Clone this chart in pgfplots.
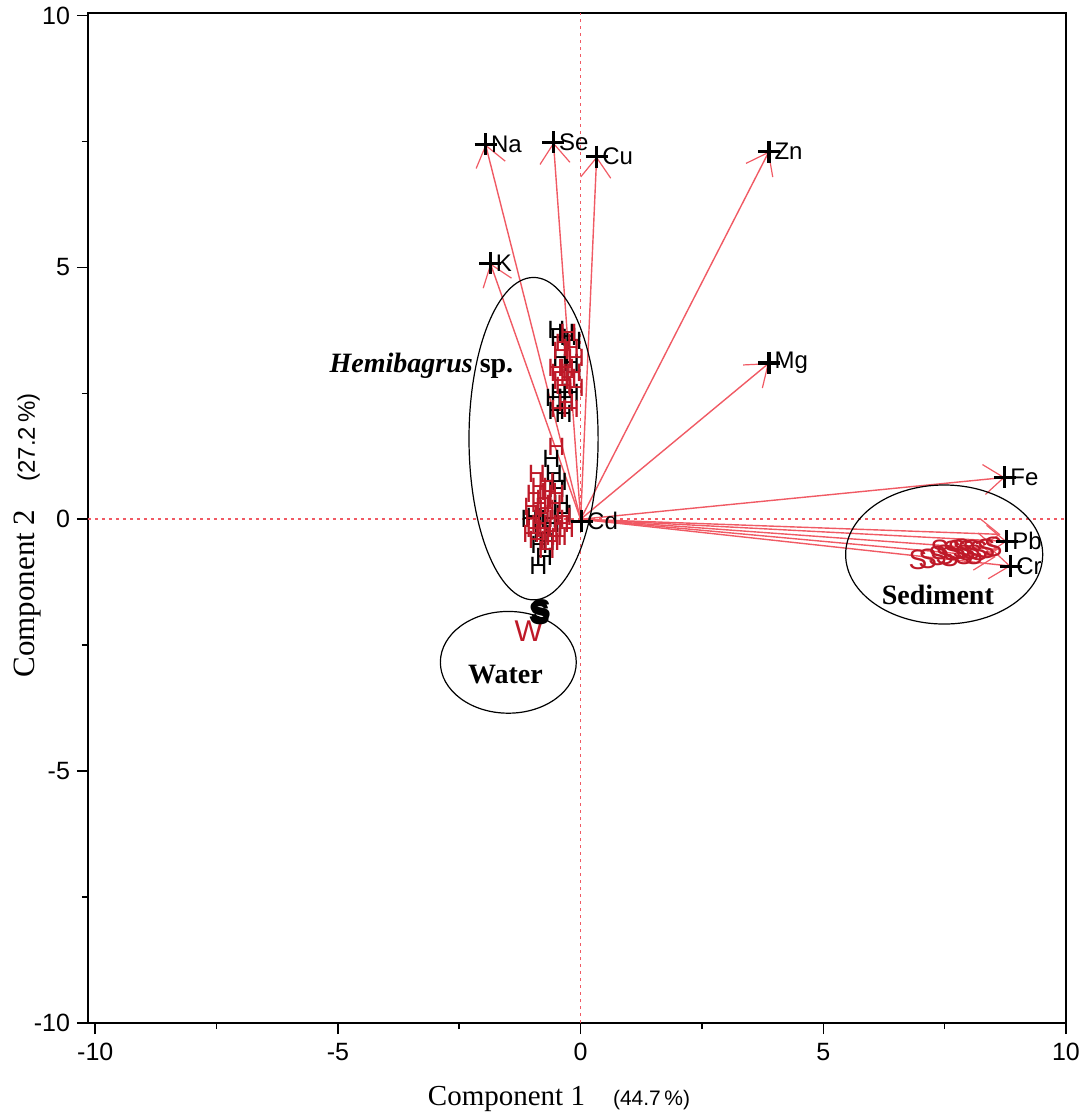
\documentclass[border=0pt]{standalone}
\usepackage{fontspec}
\setmainfont{Liberation Serif}
\setsansfont{Liberation Sans}
\usepackage{pgfplots}
\usepackage{pgfplotstable}
\pgfplotsset{compat=1.18}
\usetikzlibrary{arrows.meta}
\definecolor{arr}{RGB}{240,90,100}
\definecolor{dred}{RGB}{190,25,40}

\pgfplotstableread{
x y lab
-1.96 7.44 Na
-0.56 7.48 Se
0.33 7.20 Cu
3.88 7.30 Zn
-1.86 5.08 K
3.88 3.10 Mg
8.74 0.83 Fe
8.78 -0.44 Pb
8.86 -0.93 Cr
0.02 -0.04 Cd
}\loadings

\pgfplotstableread{
x y
-0.45 3.60
-0.25 3.62
-0.15 3.55
-0.50 3.75
-0.30 3.70
-0.40 3.20
-0.20 3.10
-0.15 2.90
-0.45 2.50
-0.30 2.40
-0.20 2.50
-0.55 2.40
-0.50 2.15
-0.35 2.10
-0.60 1.20
-0.55 0.90
-0.50 0.60
-0.95 0.05
-1.05 0.00
-0.80 -0.30
-0.70 -0.45
-0.85 -0.50
-0.75 -0.75
-0.87 -0.93
-0.60 -0.10
-0.65 0.00
-0.40 0.30
-0.35 0.10
-0.45 0.75
}\Hblack

\pgfplotstableread{
x y
-0.35 3.50
-0.25 3.70
-0.30 3.00
-0.50 3.00
-0.15 2.90
-0.35 2.65
-0.40 2.75
-0.25 2.80
-0.10 3.20
-0.10 2.60
-0.45 2.90
-0.20 3.40
-0.40 3.35
-0.30 2.30
-0.20 2.20
-0.45 2.20
-0.50 1.43
-0.95 0.50
-0.85 0.30
-0.70 0.20
-0.50 0.00
-0.75 -0.20
-0.55 -0.35
-0.95 -0.20
-0.40 -0.10
-0.65 0.55
-0.30 -0.20
-0.80 0.10
-0.60 -0.45
-1.00 0.25
-0.90 -0.40
-0.45 -0.35
-0.35 0.05
-0.55 0.30
-0.85 0.65
-0.75 0.40
-0.98 0.00
-0.62 -0.25
-0.70 -0.60
-1.02 -0.30
-0.85 -0.10
-0.50 0.50
-0.70 0.75
-0.90 0.90
}\Hred

\pgfplotstableread{
x y
6.95 -0.80
7.15 -0.78
7.35 -0.72
7.50 -0.70
7.65 -0.62
7.75 -0.60
7.85 -0.58
7.95 -0.62
8.05 -0.60
8.20 -0.62
8.35 -0.58
8.50 -0.55
7.60 -0.75
7.90 -0.70
8.10 -0.70
7.40 -0.60
}\Ssed

\begin{document}
\begin{tikzpicture}
\begin{axis}[
  scale only axis,
  width=489pt, height=505pt,
  xmin=-10.15, xmax=10, ymin=-10, ymax=10.05,
  axis line style={line width=0.8pt},
  xtick={-10,-5,0,5,10},
  xticklabels={-10,-5,0,5,10},
  ytick={-10,-5,0,5,10},
  yticklabels={-10,-5,0,5,10},
  minor xtick={-7.5,-2.5,2.5,7.5},
  minor ytick={-7.5,-2.5,2.5,7.5},
  tick align=outside,
  major tick length=5.5pt,
  minor tick length=3pt,
  tick style={line width=0.8pt, black},
  xtick pos=bottom, ytick pos=left,
  ticklabel style={font=\sffamily\fontsize{12.5}{14}\selectfont},
  xticklabel style={yshift=-1pt},
  xlabel={{\fontsize{14.5}{17}\selectfont Component 1}\hspace{14pt}{\sffamily\fontsize{10.5}{12}\selectfont (44.7\,\%)}},
  xlabel style={at={(axis description cs:0.4816,0)}, anchor=base, yshift=-41pt},
  ylabel={{\fontsize{15.5}{18}\selectfont Component 2}\hspace{14pt}{\sffamily\fontsize{12}{14}\selectfont (27.2\,\%)}},
  ylabel style={at={(axis description cs:-0.0542,0.4827)}, anchor=base},
  clip=false,
]
% reference lines
\addplot[arr, line width=0.8pt, dash pattern=on 1.3pt off 2.2pt] coordinates {(0,-10) (0,10.05)};
\addplot[arr, line width=0.8pt, dash pattern=on 1.3pt off 2.2pt] coordinates {(-10.15,0) (10,0)};

% sample scores
\addplot[only marks, mark=text,
  text mark={\sffamily\fontsize{12.5}{12}\selectfont\color{black}H}] table[x=x,y=y] {\Hblack};
\addplot[only marks, mark=text,
  text mark={\sffamily\fontsize{12.5}{12}\selectfont\color{dred}H}] table[x=x,y=y] {\Hred};
\addplot[only marks, mark=text,
  text mark={\sffamily\fontsize{14}{14}\selectfont\color{dred}S}] table[x=x,y=y] {\Ssed};
\addplot[only marks, mark=text,
  text mark={\sffamily\fontsize{15}{15}\selectfont\color{dred}W}] coordinates {(-1.07,-2.22)};
\addplot[only marks, mark=text,
  text mark={\sffamily\bfseries\fontsize{15}{15}\selectfont\color{black}S}] coordinates {(-0.86,-1.85) (-0.82,-1.80) (-0.84,-1.88)};

% loading vectors
\pgfplotsset{vec/.style={arr, line width=0.7pt, -{Straight Barb[length=10pt, width=15pt, line width=0.6pt]}}}
\addplot[vec] coordinates {(0,0) (-1.96,7.44)};
\addplot[vec] coordinates {(0,0) (-0.56,7.48)};
\addplot[vec] coordinates {(0,0) (0.33,7.20)};
\addplot[vec] coordinates {(0,0) (3.88,7.30)};
\addplot[vec] coordinates {(0,0) (-1.86,5.08)};
\addplot[vec] coordinates {(0,0) (3.88,3.10)};
\addplot[vec] coordinates {(0,0) (8.74,0.83)};
\addplot[vec] coordinates {(0,0) (8.78,-0.44)};
\addplot[vec] coordinates {(0,0) (8.86,-0.93)};
\addplot[vec] coordinates {(0,0) (8.65,-0.30)};
\addplot[vec] coordinates {(0,0) (8.60,-0.60)};
\addplot[vec] coordinates {(0,0) (8.55,-0.75)};

% loading points
\addplot[only marks, mark=+, mark size=5.5pt, line width=1.6pt, black,
  nodes near coords, point meta=explicit symbolic,
  nodes near coords style={anchor=west, xshift=1pt, inner sep=1pt,
    font=\sffamily\fontsize{12}{14}\selectfont, text=black}]
  table[x=x, y=y, meta=lab] {\loadings};

% group ellipses
\draw[black, line width=0.6pt] (axis cs:-0.97,1.60) ellipse [x radius=1.33, y radius=3.2];
\draw[black, line width=0.6pt] (axis cs:-1.49,-2.84) ellipse [x radius=1.40, y radius=1.01];
\draw[black, line width=0.6pt] (axis cs:7.49,-0.70) ellipse [x radius=2.03, y radius=1.38];

\node[font=\fontsize{14}{17}\selectfont\bfseries] at (axis cs:-3.28,3.04) {\textit{Hemibagrus} sp.};
\node[font=\fontsize{14}{17}\selectfont\bfseries] at (axis cs:-1.55,-3.08) {Water};
\node[font=\fontsize{14}{17}\selectfont\bfseries] at (axis cs:7.36,-1.51) {Sediment};
\end{axis}
\pgfresetboundingbox
\path[use as bounding box] ([xshift=-44pt, yshift=-46pt]current axis.south west) rectangle ([xshift=9.5pt, yshift=6.5pt]current axis.north east);
\end{tikzpicture}
\end{document}
